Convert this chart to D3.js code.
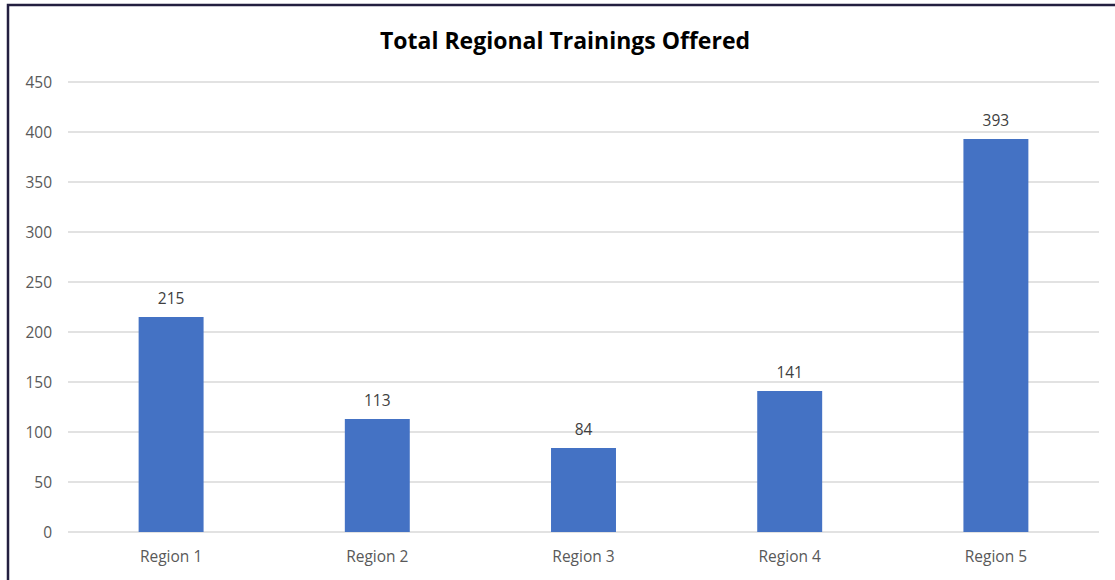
<!DOCTYPE html>
<html><head><meta charset="utf-8">
<script src="https://cdn.jsdelivr.net/npm/d3@7"></script>
<style>
html,body{margin:0;padding:0;background:#fff;}
svg{display:block;}
</style></head>
<body>
<script>
const categories = ["Region 1","Region 2","Region 3","Region 4","Region 5"];
const values = [215,113,84,141,393];
const yTicks = [0,50,100,150,200,250,300,350,400,450];
const title = "Total Regional Trainings Offered";

(function(){
const W = 1115, H = 580;
const svg = d3.select("body").append("svg").attr("width",W).attr("height",H);
const font = "'Open Sans', 'Noto Sans', sans-serif";

// outer frame
svg.append("rect").attr("x",8).attr("y",5).attr("width",W+20).attr("height",H+20)
  .attr("fill","#fff").attr("stroke","#231f40").attr("stroke-width",2.5);

const pL = 68, pR = 1099, pT = 82, pB = 532;
const x = d3.scaleBand().domain(categories).range([pL,pR]).paddingInner(0.685).paddingOuter(0.3425);
const y = d3.scaleLinear().domain([0,450]).range([pB,pT]);

// gridlines
svg.append("g").selectAll("line").data(yTicks).join("line")
  .attr("x1",pL).attr("x2",pR)
  .attr("y1",d=>y(d)).attr("y2",d=>y(d))
  .attr("stroke","#d9d9d9").attr("stroke-width",1.3);

// y labels
svg.append("g").selectAll("text").data(yTicks).join("text")
  .attr("x",52).attr("y",d=>y(d)).attr("dy","0.36em")
  .attr("text-anchor","end").attr("font-family",font).attr("font-size",15.5)
  .attr("fill","#595959").text(d=>d);

// bars
svg.append("g").selectAll("rect").data(values).join("rect")
  .attr("x",(d,i)=>x(categories[i])).attr("width",x.bandwidth())
  .attr("y",d=>y(d)).attr("height",d=>y(0)-y(d))
  .attr("fill","#4472c4");

// data labels
svg.append("g").selectAll("text").data(values).join("text")
  .attr("x",(d,i)=>x(categories[i])+x.bandwidth()/2).attr("y",d=>y(d)-13)
  .attr("text-anchor","middle").attr("font-family",font).attr("font-size",15.5)
  .attr("fill","#404040").text(d=>d);

// x labels
svg.append("g").selectAll("text").data(categories).join("text")
  .attr("x",d=>x(d)+x.bandwidth()/2).attr("y",562)
  .attr("text-anchor","middle").attr("font-family",font).attr("font-size",15.5)
  .attr("fill","#595959").text(d=>d);

// title
svg.append("text").attr("x",565).attr("y",49).attr("text-anchor","middle")
  .attr("font-family",font).attr("font-size",23).attr("font-weight","bold")
  .attr("fill","#000").text(title);
})();
</script>
</body></html>
